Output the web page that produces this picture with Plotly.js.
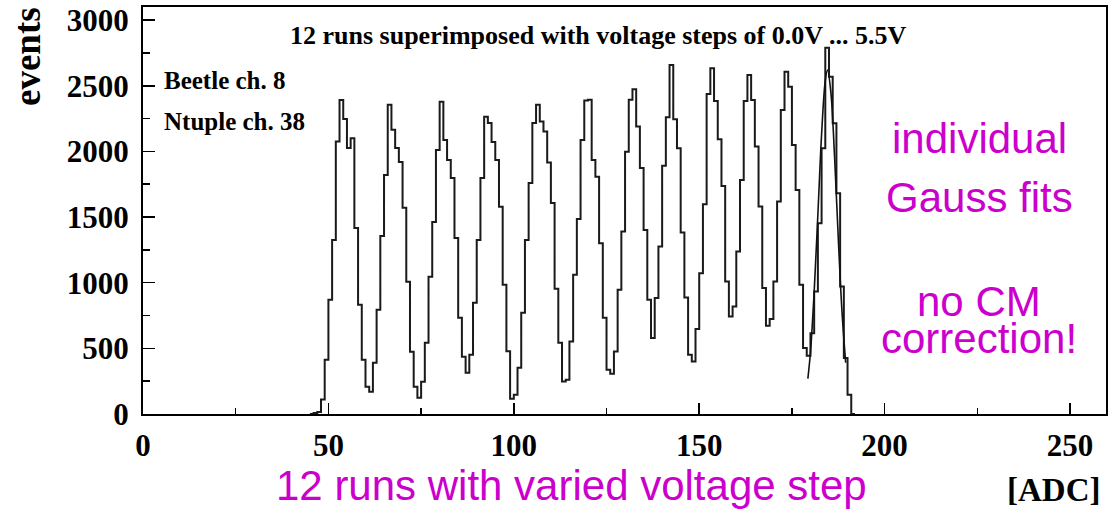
<!DOCTYPE html>
<html>
<head>
<meta charset="utf-8">
<script src="https://cdn.plot.ly/plotly-3.0.1.min.js"></script>
<style>
html,body{margin:0;padding:0;background:#fff;}
#chart{width:1114px;height:510px;}
</style>
</head>
<body>
<div id="chart"></div>
<script>
// ---- data ----
// histogram: left edge of each 1-ADC bin and its event count
const binStart = 45;
const counts = [
  0, 8, 15, 110, 414, 870, 1325, 2075, 2392, 2247,        // 45-54
  2026, 2100, 1417, 833, 414, 208, 170, 390, 794, 1356,   // 55-64
  1820, 2355, 2165, 2026, 1920, 1570, 1007, 475, 208, 124,// 65-74
  246, 543, 1045, 1463, 2010, 2379, 2087, 1935, 1798, 1341,// 75-84
  733, 437, 314, 451, 847, 1325, 1798, 2265, 2217, 2072,  // 85-94
  1935, 1578, 985, 477, 116, 147, 352, 771, 1325, 1760,   // 95-104
  2217, 2355, 2227, 2151, 1915, 1608, 954, 543, 248, 260, // 105-114
  553, 1060, 1486, 2087, 2387, 2394, 1935, 1808, 1301, 733,// 115-124
  337, 307, 476, 946, 1390, 1998, 2394, 2473, 2189, 1874, // 125-134
  1402, 870, 578, 883, 1276, 1890, 2260, 2658, 2245, 2024,// 135-144
  1382, 887, 451, 400, 647, 1073, 1598, 2437, 2633, 2384, // 145-154
  2093, 1737, 1009, 743, 819, 1237, 1783, 2384, 2583, 2391,// 155-164
  2037, 1580, 959, 672, 723, 1009, 1618, 2316, 2607, 2493,// 165-174
  2049, 1707, 984, 502, 444, 616, 933, 1453, 2024, 2790,  // 175-184
  2569, 2214, 1682, 971, 426, 147, 0                      // 185-191
];
// Gauss fit of the last run
const fitX = [179.3, 180, 181, 182, 183, 184, 184.6, 185.5, 186.5, 187.5, 188.5, 189.5];
const fitY = [270, 470, 930, 1520, 2130, 2540, 2620, 2450, 1960, 1340, 780, 390];

const xTickVals = [0, 50, 100, 150, 200, 250];
const yTickVals = [0, 500, 1000, 1500, 2000, 2500, 3000];

const titleText = "12 runs superimposed with voltage steps of 0.0V ... 5.5V";
const infoLines = ["Beetle ch. 8", "Ntuple ch. 38"];
const noteLines = ["individual", "Gauss fits", "no CM", "correction!"];
const bottomNote = "12 runs with varied voltage step";
const xTitle = "[ADC]";
const yTitle = "events";

// ---- build step line from bins ----
const stepX = [], stepY = [];
counts.forEach((c, i) => { stepX.push(binStart + i); stepY.push(c); });
stepX.push(binStart + counts.length); stepY.push(0);

const W = 1114, H = 510;
const M = {l: 143, r: 8, t: 7, b: 96};
const pw = W - M.l - M.r, ph = H - M.t - M.b;
const px = x => (x - M.l) / pw;
const py = y => (H - M.b - y) / ph;

const serif = 'Liberation Serif, Times New Roman, serif';
const sans = 'Liberation Sans, Arial, sans-serif';
const magenta = '#CC00CC';

const traces = [
  {x: stepX, y: stepY, type: 'scatter', mode: 'lines',
   line: {shape: 'hv', color: '#1a1a1a', width: 2}, hoverinfo: 'skip'},
  {x: fitX, y: fitY, type: 'scatter', mode: 'lines',
   line: {shape: 'spline', color: '#111', width: 1.6}, hoverinfo: 'skip'}
];

const axisCommon = {
  ticks: 'inside', tickwidth: 1.5, tickcolor: '#000',
  showline: true, linewidth: 2, linecolor: '#000', mirror: true,
  showgrid: false, zeroline: false, fixedrange: true,
  tickfont: {family: serif, size: 31, weight: 'bold', color: '#000'}
};

const annotations = [];
const ann = (text, x, y, opts) => Object.assign({
  text, xref: 'paper', yref: 'paper', x: px(x), y: py(y),
  showarrow: false, xanchor: 'left', yanchor: 'middle'
}, opts);

annotations.push(ann(infoLines[0], 162, 81, {font: {family: serif, size: 25, weight: 'bold', color: '#000'}}));
annotations.push(ann(infoLines[1], 162, 122, {font: {family: serif, size: 25, weight: 'bold', color: '#000'}}));
annotations.push(ann(yTitle, 27, 57, {xanchor: 'center', textangle: -90, font: {family: serif, size: 37, weight: 'bold', color: '#000'}}));
annotations.push(ann(xTitle, 1102, 490, {xanchor: 'right', font: {family: serif, size: 33, weight: 'bold', color: '#000'}}));
const noteY = [138, 197, 301, 338];
noteLines.forEach((t, i) => annotations.push(ann(t, 979, noteY[i], {xanchor: 'center', font: {family: sans, size: 42, color: magenta}})));
annotations.push(ann(bottomNote, 571, 485, {xanchor: 'center', font: {family: sans, size: 42, color: magenta}}));

const layout = {
  width: W, height: H, margin: Object.assign({pad: 0}, M),
  paper_bgcolor: '#fff', plot_bgcolor: '#fff', showlegend: false,
  title: {text: titleText, x: 290 / W, xanchor: 'left', xref: 'container', y: 1 - 35 / H, yanchor: 'middle',
          font: {family: serif, size: 26, weight: 'bold', color: '#000'}},
  xaxis: Object.assign({}, axisCommon, {
    range: [0, 259.7], tickmode: 'array', tickvals: xTickVals, ticklen: 11,
    minor: {ticks: 'inside', ticklen: 6, tickwidth: 1.5, tickcolor: '#000', dtick: 25, tick0: 0, showgrid: false},
    ticklabelstandoff: 3
  }),
  yaxis: Object.assign({}, axisCommon, {
    range: [0, 3100], tickmode: 'array', tickvals: yTickVals, ticklen: 12,
    minor: {ticks: 'inside', ticklen: 7, tickwidth: 1.5, tickcolor: '#000', dtick: 250, tick0: 0, showgrid: false},
    ticklabelstandoff: 6
  }),
  annotations
};

Plotly.newPlot('chart', traces, layout, {staticPlot: true, displayModeBar: false});
</script>
</body>
</html>
